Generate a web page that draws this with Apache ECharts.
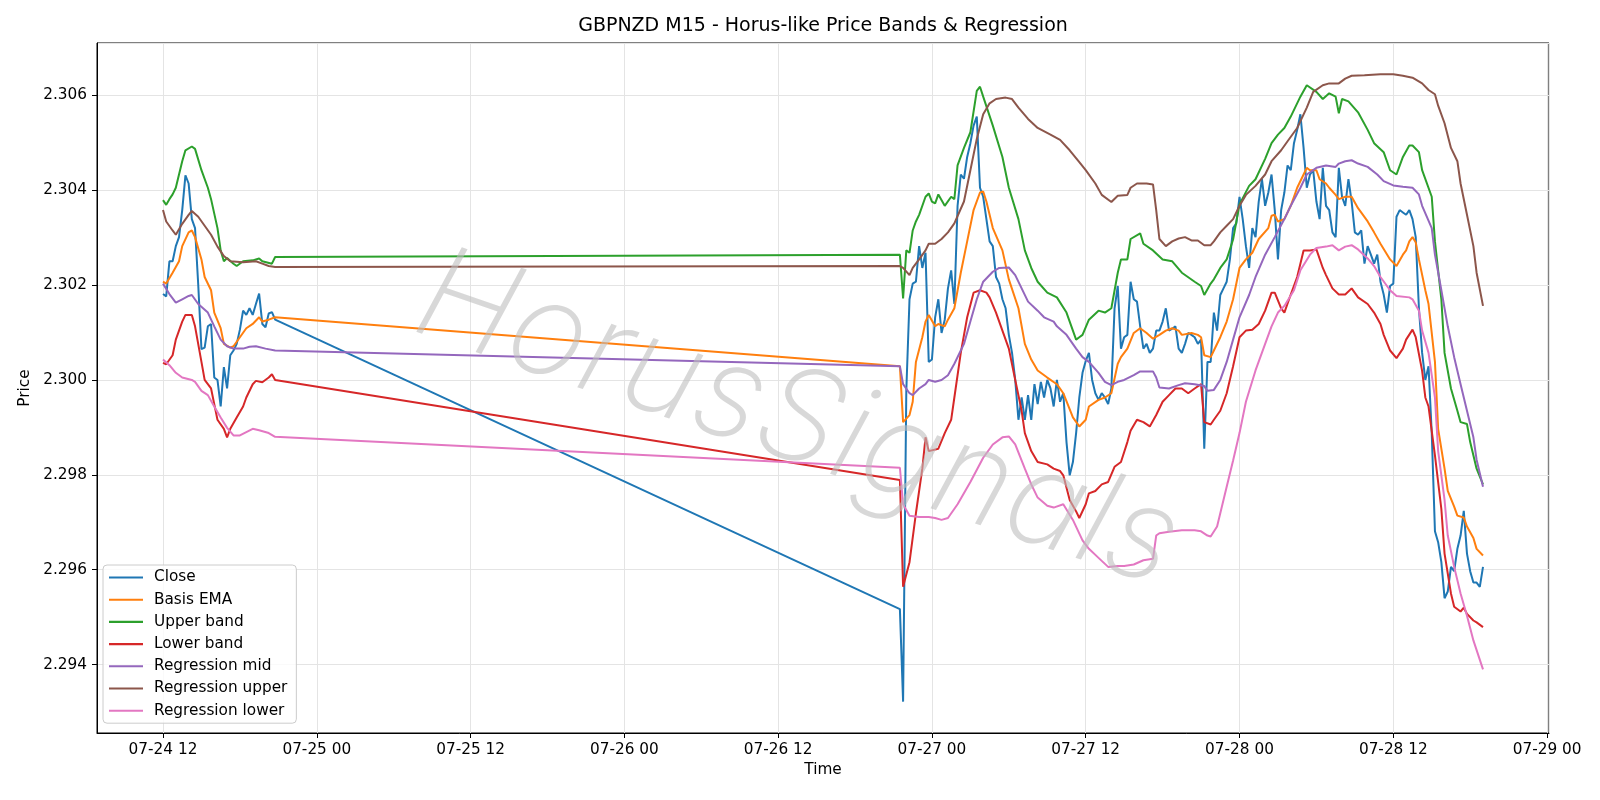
<!DOCTYPE html>
<html>
<head>
<meta charset="utf-8">
<title>GBPNZD M15 - Horus-like Price Bands &amp; Regression</title>
<script src="https://cdn.jsdelivr.net/npm/echarts@6/dist/echarts.min.js"></script>
<style>
  html, body { margin: 0; padding: 0; background: #fff; }
  #chart { width: 1600px; height: 800px; }
</style>
</head>
<body>
<div id="chart"></div>
<script>
// GBPNZD M15 closes, one row per hour: [start, close@:00, :15, :30, :45]
const closeRows = [
  ['07-24 12:00', 2.30181, 2.30176, 2.30250, 2.30250],
  ['07-24 13:00', 2.30282, 2.30301, 2.30358, 2.30431],
  ['07-24 14:00', 2.30414, 2.30339, 2.30320, 2.30200],
  ['07-24 15:00', 2.30065, 2.30068, 2.30113, 2.30118],
  ['07-24 16:00', 2.30005, 2.30000, 2.29944, 2.30027],
  ['07-24 17:00', 2.29982, 2.30052, 2.30062, 2.30076],
  ['07-24 18:00', 2.30106, 2.30146, 2.30137, 2.30151],
  ['07-24 19:00', 2.30137, 2.30160, 2.30182, 2.30118],
  ['07-24 20:00', 2.30111, 2.30140, 2.30143, 2.30127],
  ['07-26 21:30', 2.29517, 2.29322],
  ['07-26 22:00', 2.29977, 2.30170, 2.30203, 2.30207],
  ['07-26 23:00', 2.30282, 2.30236, 2.30268, 2.30038],
  ['07-27 00:00', 2.30043, 2.30132, 2.30170, 2.30099],
  ['07-27 01:00', 2.30127, 2.30193, 2.30231, 2.30160],
  ['07-27 02:00', 2.30367, 2.30433, 2.30424, 2.30470],
  ['07-27 03:00', 2.30499, 2.30536, 2.30555, 2.30405],
  ['07-27 04:00', 2.30386, 2.30339, 2.30292, 2.30282],
  ['07-27 05:00', 2.30217, 2.30203, 2.30170, 2.30151],
  ['07-27 06:00', 2.30095, 2.30057, 2.30000, 2.29916],
  ['07-27 07:00', 2.29963, 2.29916, 2.29968, 2.29916],
  ['07-27 08:00', 2.29991, 2.29949, 2.29996, 2.29963],
  ['07-27 09:00', 2.30000, 2.29982, 2.29944, 2.30000],
  ['07-27 10:00', 2.29954, 2.29972, 2.29869, 2.29799],
  ['07-27 11:00', 2.29827, 2.29888, 2.29963, 2.30015],
  ['07-27 12:00', 2.30040, 2.30057, 2.30000, 2.29972],
  ['07-27 13:00', 2.29958, 2.29972, 2.29963, 2.29949],
  ['07-27 14:00', 2.29982, 2.30151, 2.30198, 2.30066],
  ['07-27 15:00', 2.30090, 2.30095, 2.30207, 2.30170],
  ['07-27 16:00', 2.30165, 2.30113, 2.30066, 2.30076],
  ['07-27 17:00', 2.30057, 2.30066, 2.30104, 2.30104],
  ['07-27 18:00', 2.30123, 2.30151, 2.30104, 2.30108],
  ['07-27 19:00', 2.30113, 2.30066, 2.30057, 2.30076],
  ['07-27 20:00', 2.30099, 2.30095, 2.30090, 2.30076],
  ['07-27 21:00', 2.30085, 2.29855, 2.30038, 2.30038],
  ['07-27 22:00', 2.30142, 2.30104, 2.30179, 2.30193],
  ['07-27 23:00', 2.30207, 2.30254, 2.30320, 2.30330],
  ['07-28 00:00', 2.30386, 2.30339, 2.30282, 2.30236],
  ['07-28 01:00', 2.30320, 2.30301, 2.30376, 2.30423],
  ['07-28 02:00', 2.30367, 2.30395, 2.30433, 2.30358],
  ['07-28 03:00', 2.30254, 2.30358, 2.30395, 2.30452],
  ['07-28 04:00', 2.30442, 2.30499, 2.30527, 2.30560],
  ['07-28 05:00', 2.30489, 2.30405, 2.30433, 2.30442],
  ['07-28 06:00', 2.30376, 2.30339, 2.30447, 2.30367],
  ['07-28 07:00', 2.30358, 2.30311, 2.30301, 2.30447],
  ['07-28 08:00', 2.30386, 2.30367, 2.30423, 2.30376],
  ['07-28 09:00', 2.30311, 2.30306, 2.30315, 2.30245],
  ['07-28 10:00', 2.30282, 2.30264, 2.30245, 2.30264],
  ['07-28 11:00', 2.30207, 2.30180, 2.30142, 2.30198],
  ['07-28 12:00', 2.30203, 2.30344, 2.30358, 2.30353],
  ['07-28 13:00', 2.30348, 2.30358, 2.30339, 2.30301],
  ['07-28 14:00', 2.30151, 2.30057, 2.30000, 2.30029],
  ['07-28 15:00', 2.29888, 2.29681, 2.29658, 2.29616],
  ['07-28 16:00', 2.29540, 2.29554, 2.29606, 2.29597],
  ['07-28 17:00', 2.29644, 2.29672, 2.29724, 2.29634],
  ['07-28 18:00', 2.29597, 2.29573, 2.29573, 2.29564],
  ['07-28 19:00', 2.29606]
];

// smooth lines, read at their turning points
const basisEma = [
  ['07-24 12:00', 2.30207], ['07-24 12:15', 2.30203], ['07-24 12:45', 2.30226], ['07-24 13:15', 2.30250],
  ['07-24 13:30', 2.30282], ['07-24 14:00', 2.30311], ['07-24 14:15', 2.30315], ['07-24 14:30', 2.30301],
  ['07-24 15:00', 2.30254], ['07-24 15:15', 2.30217], ['07-24 15:45', 2.30189], ['07-24 16:00', 2.30142],
  ['07-24 16:30', 2.30109], ['07-24 16:45', 2.30076], ['07-24 17:15', 2.30068], ['07-24 17:30', 2.30071],
  ['07-24 18:00', 2.30090], ['07-24 18:30', 2.30109], ['07-24 19:00', 2.30118], ['07-24 19:30', 2.30132],
  ['07-24 19:45', 2.30123], ['07-24 20:15', 2.30127], ['07-24 20:45', 2.30132],
  ['07-26 21:30', 2.30029], ['07-26 21:45', 2.29911], ['07-26 22:15', 2.29926], ['07-26 22:30', 2.29954],
  ['07-26 22:45', 2.30038], ['07-26 23:15', 2.30090], ['07-26 23:30', 2.30123], ['07-26 23:45', 2.30137],
  ['07-27 00:15', 2.30113], ['07-27 00:30', 2.30118], ['07-27 01:00', 2.30113], ['07-27 01:15', 2.30127],
  ['07-27 01:45', 2.30151], ['07-27 02:15', 2.30226], ['07-27 02:45', 2.30292], ['07-27 03:15', 2.30358],
  ['07-27 03:45', 2.30395], ['07-27 04:00', 2.30397], ['07-27 04:15', 2.30376], ['07-27 04:45', 2.30320],
  ['07-27 05:30', 2.30273], ['07-27 06:00', 2.30212], ['07-27 06:45', 2.30151], ['07-27 07:15', 2.30076],
  ['07-27 07:45', 2.30043], ['07-27 08:15', 2.30020], ['07-27 09:00', 2.30005], ['07-27 09:45', 2.29991],
  ['07-27 10:15', 2.29972], ['07-27 11:00', 2.29921], ['07-27 11:30', 2.29902], ['07-27 12:00', 2.29916],
  ['07-27 12:15', 2.29944], ['07-27 13:00', 2.29958], ['07-27 13:30', 2.29963], ['07-27 14:00', 2.29972],
  ['07-27 14:30', 2.30034], ['07-27 14:45', 2.30048], ['07-27 15:15', 2.30066], ['07-27 15:45', 2.30099],
  ['07-27 16:15', 2.30109], ['07-27 16:45', 2.30099], ['07-27 17:15', 2.30087], ['07-27 17:45', 2.30095],
  ['07-27 18:15', 2.30104], ['07-27 18:45', 2.30109], ['07-27 19:15', 2.30104], ['07-27 19:30', 2.30095],
  ['07-27 20:15', 2.30099], ['07-27 20:45', 2.30095], ['07-27 21:00', 2.30090], ['07-27 21:15', 2.30052],
  ['07-27 21:45', 2.30048], ['07-27 22:00', 2.30062], ['07-27 22:30', 2.30090], ['07-27 23:00', 2.30123],
  ['07-27 23:30', 2.30170], ['07-28 00:00', 2.30236], ['07-28 00:30', 2.30254], ['07-28 01:00', 2.30268],
  ['07-28 01:30', 2.30297], ['07-28 02:15', 2.30320], ['07-28 02:30', 2.30346], ['07-28 02:45', 2.30348],
  ['07-28 03:00', 2.30334], ['07-28 03:30', 2.30339], ['07-28 04:00', 2.30367], ['07-28 04:30', 2.30405],
  ['07-28 05:00', 2.30433], ['07-28 05:15', 2.30447], ['07-28 05:30', 2.30442], ['07-28 06:00', 2.30442],
  ['07-28 06:15', 2.30423], ['07-28 06:45', 2.30414], ['07-28 07:00', 2.30405], ['07-28 07:30', 2.30390],
  ['07-28 07:45', 2.30381], ['07-28 08:15', 2.30386], ['07-28 08:45', 2.30386], ['07-28 09:15', 2.30362],
  ['07-28 10:00', 2.30334], ['07-28 10:30', 2.30311], ['07-28 11:00', 2.30287], ['07-28 11:45', 2.30254],
  ['07-28 12:15', 2.30240], ['07-28 12:45', 2.30264], ['07-28 13:00', 2.30273], ['07-28 13:15', 2.30292],
  ['07-28 13:30', 2.30301], ['07-28 13:45', 2.30290], ['07-28 14:00', 2.30254], ['07-28 14:30', 2.30189],
  ['07-28 14:45', 2.30160], ['07-28 15:15', 2.30038], ['07-28 15:30', 2.29897], ['07-28 16:00', 2.29813],
  ['07-28 16:15', 2.29766], ['07-28 16:45', 2.29733], ['07-28 17:00', 2.29714], ['07-28 17:30', 2.29710],
  ['07-28 17:45', 2.29691], ['07-28 18:15', 2.29667], ['07-28 18:30', 2.29644], ['07-28 19:00', 2.29630]
];

const upperBand = [
  ['07-24 12:00', 2.30379], ['07-24 12:15', 2.30369], ['07-24 12:30', 2.30381], ['07-24 12:45', 2.30391],
  ['07-24 13:00', 2.30405], ['07-24 13:30', 2.30461], ['07-24 13:45', 2.30484], ['07-24 14:15', 2.30492],
  ['07-24 14:30', 2.30487], ['07-24 15:00', 2.30442], ['07-24 15:30', 2.30405], ['07-24 15:45', 2.30381],
  ['07-24 16:15', 2.30320], ['07-24 16:30', 2.30273], ['07-24 16:45', 2.30250], ['07-24 17:00', 2.30257],
  ['07-24 17:30', 2.30245], ['07-24 17:45', 2.30240], ['07-24 18:15', 2.30250], ['07-24 19:00', 2.30252],
  ['07-24 19:30', 2.30256], ['07-24 19:45', 2.30250], ['07-24 20:30', 2.30245], ['07-24 20:45', 2.30259],
  ['07-26 21:30', 2.30264], ['07-26 21:45', 2.30172], ['07-26 22:00', 2.30273], ['07-26 22:15', 2.30268],
  ['07-26 22:30', 2.30315], ['07-26 22:45', 2.30334], ['07-26 23:00', 2.30348], ['07-26 23:30', 2.30386],
  ['07-26 23:45', 2.30393], ['07-27 00:00', 2.30376], ['07-27 00:15', 2.30372], ['07-27 00:30', 2.30391],
  ['07-27 01:00', 2.30367], ['07-27 01:30', 2.30386], ['07-27 01:45', 2.30381], ['07-27 02:00', 2.30452],
  ['07-27 02:30', 2.30489], ['07-27 03:00', 2.30522], ['07-27 03:30', 2.30609], ['07-27 03:45', 2.30618],
  ['07-27 04:00', 2.30597], ['07-27 04:45', 2.30536], ['07-27 05:30', 2.30470], ['07-27 06:00', 2.30405],
  ['07-27 06:45', 2.30339], ['07-27 07:15', 2.30273], ['07-27 07:45', 2.30236], ['07-27 08:15', 2.30207],
  ['07-27 09:00', 2.30184], ['07-27 09:45', 2.30174], ['07-27 10:30', 2.30142], ['07-27 11:15', 2.30085],
  ['07-27 11:30', 2.30090], ['07-27 11:45', 2.30095], ['07-27 12:15', 2.30127], ['07-27 13:00', 2.30146],
  ['07-27 13:30', 2.30142], ['07-27 14:00', 2.30151], ['07-27 14:30', 2.30226], ['07-27 14:45', 2.30254],
  ['07-27 15:15', 2.30254], ['07-27 15:30', 2.30297], ['07-27 16:15', 2.30309], ['07-27 16:30', 2.30287],
  ['07-27 17:15', 2.30273], ['07-27 18:00', 2.30254], ['07-27 18:45', 2.30250], ['07-27 19:30', 2.30226],
  ['07-27 20:30', 2.30207], ['07-27 21:00', 2.30198], ['07-27 21:15', 2.30179], ['07-27 21:45', 2.30203],
  ['07-27 22:00', 2.30212], ['07-27 22:30', 2.30236], ['07-27 23:00', 2.30254], ['07-27 23:30', 2.30296],
  ['07-28 00:00', 2.30370], ['07-28 00:45', 2.30409], ['07-28 01:15', 2.30423], ['07-28 02:00', 2.30466],
  ['07-28 02:30', 2.30499], ['07-28 03:00', 2.30517], ['07-28 03:30', 2.30531], ['07-28 04:00', 2.30555],
  ['07-28 04:45', 2.30597], ['07-28 05:15', 2.30621], ['07-28 06:00', 2.30607], ['07-28 06:30', 2.30592],
  ['07-28 07:00', 2.30604], ['07-28 07:30', 2.30597], ['07-28 07:45', 2.30562], ['07-28 08:00', 2.30592],
  ['07-28 08:30', 2.30587], ['07-28 09:15', 2.30564], ['07-28 10:00', 2.30527], ['07-28 10:30', 2.30499],
  ['07-28 11:15', 2.30480], ['07-28 11:45', 2.30442], ['07-28 12:15', 2.30433], ['07-28 12:45', 2.30470],
  ['07-28 13:15', 2.30494], ['07-28 13:30', 2.30494], ['07-28 14:00', 2.30480], ['07-28 14:15', 2.30442],
  ['07-28 15:00', 2.30386], ['07-28 15:15', 2.30292], ['07-28 15:45', 2.30170], ['07-28 16:00', 2.30057],
  ['07-28 16:30', 2.29982], ['07-28 17:00', 2.29935], ['07-28 17:15', 2.29911], ['07-28 17:45', 2.29907],
  ['07-28 18:00', 2.29869], ['07-28 18:30', 2.29813], ['07-28 19:00', 2.29780]
];

const lowerBand = [
  ['07-24 12:00', 2.30036], ['07-24 12:15', 2.30033], ['07-24 12:45', 2.30052], ['07-24 13:00', 2.30085],
  ['07-24 13:30', 2.30123], ['07-24 13:45', 2.30137], ['07-24 14:15', 2.30137], ['07-24 14:30', 2.30113],
  ['07-24 15:00', 2.30038], ['07-24 15:15', 2.30000], ['07-24 15:45', 2.29982], ['07-24 16:00', 2.29949],
  ['07-24 16:15', 2.29916], ['07-24 16:45', 2.29897], ['07-24 17:00', 2.29879], ['07-24 17:15', 2.29897],
  ['07-24 17:45', 2.29921], ['07-24 18:15', 2.29944], ['07-24 18:30', 2.29963], ['07-24 19:00', 2.29991],
  ['07-24 19:15', 2.29998], ['07-24 19:45', 2.29995], ['07-24 20:15', 2.30005], ['07-24 20:30', 2.30012],
  ['07-24 20:45', 2.30000],
  ['07-26 21:30', 2.29789], ['07-26 21:45', 2.29564], ['07-26 22:15', 2.29616], ['07-26 22:45', 2.29719],
  ['07-26 23:15', 2.29813], ['07-26 23:30', 2.29879], ['07-26 23:45', 2.29850], ['07-27 00:30', 2.29855],
  ['07-27 01:00', 2.29888], ['07-27 01:30', 2.29916], ['07-27 01:45', 2.29963], ['07-27 02:15', 2.30057],
  ['07-27 02:45', 2.30132], ['07-27 03:15', 2.30184], ['07-27 03:45', 2.30189], ['07-27 04:15', 2.30184],
  ['07-27 04:30', 2.30174], ['07-27 05:00', 2.30142], ['07-27 05:30', 2.30104], ['07-27 06:00', 2.30066],
  ['07-27 06:30', 2.30000], ['07-27 07:00', 2.29935], ['07-27 07:15', 2.29888], ['07-27 07:45', 2.29850],
  ['07-27 08:15', 2.29827], ['07-27 09:00', 2.29822], ['07-27 09:30', 2.29813], ['07-27 10:00', 2.29808],
  ['07-27 10:15', 2.29799], ['07-27 10:45', 2.29747], ['07-27 11:15', 2.29723], ['07-27 11:30', 2.29709],
  ['07-27 12:00', 2.29738], ['07-27 12:15', 2.29761], ['07-27 12:45', 2.29766], ['07-27 13:15', 2.29780],
  ['07-27 13:45', 2.29785], ['07-27 14:15', 2.29817], ['07-27 14:45', 2.29827], ['07-27 15:15', 2.29869],
  ['07-27 15:30', 2.29893], ['07-27 16:00', 2.29916], ['07-27 16:30', 2.29911], ['07-27 17:00', 2.29902],
  ['07-27 17:30', 2.29926], ['07-27 18:00', 2.29954], ['07-27 18:30', 2.29968], ['07-27 19:00', 2.29982],
  ['07-27 19:30', 2.29982], ['07-27 20:00', 2.29972], ['07-27 20:30', 2.29982], ['07-27 21:00', 2.29991],
  ['07-27 21:15', 2.29911], ['07-27 21:45', 2.29906], ['07-27 22:00', 2.29916], ['07-27 22:30', 2.29935],
  ['07-27 23:00', 2.29972], ['07-27 23:30', 2.30029], ['07-28 00:00', 2.30090], ['07-28 00:30', 2.30104],
  ['07-28 01:00', 2.30106], ['07-28 01:30', 2.30118], ['07-28 02:00', 2.30146], ['07-28 02:30', 2.30184],
  ['07-28 02:45', 2.30184], ['07-28 03:15', 2.30151], ['07-28 03:30', 2.30142], ['07-28 04:00', 2.30180],
  ['07-28 04:30', 2.30217], ['07-28 05:00', 2.30273], ['07-28 05:30', 2.30273], ['07-28 06:00', 2.30275],
  ['07-28 06:30', 2.30236], ['07-28 06:45', 2.30221], ['07-28 07:15', 2.30193], ['07-28 07:45', 2.30180],
  ['07-28 08:15', 2.30180], ['07-28 08:45', 2.30193], ['07-28 09:15', 2.30174], ['07-28 10:00', 2.30160],
  ['07-28 10:30', 2.30142], ['07-28 11:00', 2.30118], ['07-28 11:15', 2.30095], ['07-28 11:45', 2.30062],
  ['07-28 12:15', 2.30046], ['07-28 12:45', 2.30066], ['07-28 13:00', 2.30085], ['07-28 13:30', 2.30106],
  ['07-28 13:45', 2.30090], ['07-28 14:15', 2.30019], ['07-28 14:30', 2.29963], ['07-28 14:45', 2.29944],
  ['07-28 15:15', 2.29841], ['07-28 15:45', 2.29728], ['07-28 16:00', 2.29634], ['07-28 16:30', 2.29550],
  ['07-28 16:45', 2.29522], ['07-28 17:15', 2.29512], ['07-28 17:30', 2.29520], ['07-28 17:45', 2.29507],
  ['07-28 18:15', 2.29493], ['07-28 18:30', 2.29489], ['07-28 19:00', 2.29479]
];

const regMid = [
  ['07-24 12:00', 2.30203], ['07-24 12:30', 2.30181], ['07-24 13:00', 2.30163], ['07-24 13:30', 2.30170],
  ['07-24 14:00', 2.30177], ['07-24 14:15', 2.30179], ['07-24 14:45', 2.30160], ['07-24 15:30', 2.30142],
  ['07-24 16:00', 2.30113], ['07-24 16:30', 2.30085], ['07-24 17:00', 2.30071], ['07-24 17:30', 2.30066],
  ['07-24 18:15', 2.30066], ['07-24 18:45', 2.30070], ['07-24 19:15', 2.30071], ['07-24 20:00', 2.30066],
  ['07-24 20:45', 2.30062],
  ['07-26 21:30', 2.30029], ['07-26 21:45', 2.29991], ['07-26 22:15', 2.29972], ['07-26 22:30', 2.29968],
  ['07-26 23:00', 2.29982], ['07-26 23:30', 2.29991], ['07-26 23:45', 2.30000], ['07-27 00:15', 2.29996],
  ['07-27 00:45', 2.30000], ['07-27 01:15', 2.30010], ['07-27 01:45', 2.30034], ['07-27 02:30', 2.30076],
  ['07-27 03:00', 2.30123], ['07-27 03:30', 2.30170], ['07-27 04:00', 2.30207], ['07-27 04:45', 2.30228],
  ['07-27 05:15', 2.30236], ['07-27 06:00', 2.30237], ['07-27 06:30', 2.30221], ['07-27 07:00', 2.30193],
  ['07-27 07:30', 2.30165], ['07-27 08:15', 2.30146], ['07-27 08:45', 2.30132], ['07-27 09:30', 2.30123],
  ['07-27 09:45', 2.30113], ['07-27 10:30', 2.30095], ['07-27 11:15', 2.30066], ['07-27 11:45', 2.30048],
  ['07-27 12:15', 2.30038], ['07-27 13:00', 2.30015], ['07-27 13:30', 2.29996], ['07-27 14:00', 2.29989],
  ['07-27 14:30', 2.29996], ['07-27 15:00', 2.30000], ['07-27 15:45', 2.30010], ['07-27 16:15', 2.30018],
  ['07-27 17:15', 2.30018], ['07-27 17:30', 2.30005], ['07-27 17:45', 2.29984], ['07-27 18:30', 2.29982],
  ['07-27 19:15', 2.29989], ['07-27 19:45', 2.29993], ['07-27 20:30', 2.29991], ['07-27 21:15', 2.29987],
  ['07-27 21:30', 2.29977], ['07-27 22:00', 2.29979], ['07-27 22:30', 2.30000], ['07-27 23:00', 2.30038],
  ['07-27 23:30', 2.30085], ['07-28 00:00', 2.30132], ['07-28 00:45', 2.30179], ['07-28 01:15', 2.30217],
  ['07-28 02:00', 2.30264], ['07-28 02:45', 2.30301], ['07-28 03:30', 2.30339], ['07-28 04:00', 2.30367],
  ['07-28 04:45', 2.30405], ['07-28 05:15', 2.30433], ['07-28 06:00', 2.30447], ['07-28 06:45', 2.30452],
  ['07-28 07:30', 2.30449], ['07-28 07:45', 2.30456], ['07-28 08:15', 2.30461], ['07-28 08:45', 2.30463],
  ['07-28 09:15', 2.30456], ['07-28 10:00', 2.30449], ['07-28 10:45', 2.30433], ['07-28 11:15', 2.30419],
  ['07-28 12:00', 2.30410], ['07-28 12:45', 2.30407], ['07-28 13:30', 2.30405], ['07-28 14:00', 2.30391],
  ['07-28 14:15', 2.30367], ['07-28 15:00', 2.30320], ['07-28 15:15', 2.30264], ['07-28 15:45', 2.30189],
  ['07-28 16:15', 2.30113], ['07-28 16:45', 2.30048], ['07-28 17:15', 2.29991], ['07-28 17:45', 2.29935],
  ['07-28 18:15', 2.29879], ['07-28 18:30', 2.29832], ['07-28 19:00', 2.29775]
];

const regUpper = [
  ['07-24 12:00', 2.30358], ['07-24 12:15', 2.30334], ['07-24 12:45', 2.30315], ['07-24 13:00', 2.30306],
  ['07-24 13:30', 2.30329], ['07-24 14:00', 2.30348], ['07-24 14:15', 2.30356], ['07-24 14:45', 2.30344],
  ['07-24 15:15', 2.30325], ['07-24 15:45', 2.30306], ['07-24 16:15', 2.30281], ['07-24 16:45', 2.30261],
  ['07-24 17:15', 2.30250], ['07-24 18:15', 2.30248], ['07-24 19:15', 2.30250], ['07-24 19:45', 2.30245],
  ['07-24 20:15', 2.30240], ['07-24 20:45', 2.30238],
  ['07-26 21:30', 2.30240], ['07-26 21:45', 2.30236], ['07-26 22:15', 2.30221], ['07-26 22:30', 2.30236],
  ['07-26 23:00', 2.30254], ['07-26 23:30', 2.30273], ['07-26 23:45', 2.30287], ['07-27 00:15', 2.30287],
  ['07-27 00:45', 2.30297], ['07-27 01:15', 2.30311], ['07-27 01:45', 2.30330], ['07-27 02:30', 2.30376],
  ['07-27 03:00', 2.30442], ['07-27 03:30', 2.30508], ['07-27 04:00', 2.30560], ['07-27 04:30', 2.30583],
  ['07-27 05:00', 2.30592], ['07-27 05:45', 2.30595], ['07-27 06:15', 2.30592], ['07-27 06:45', 2.30574],
  ['07-27 07:30', 2.30550], ['07-27 08:15', 2.30531], ['07-27 09:15', 2.30517], ['07-27 10:00', 2.30506],
  ['07-27 10:45', 2.30484], ['07-27 11:30', 2.30459], ['07-27 12:00', 2.30442], ['07-27 12:45', 2.30414],
  ['07-27 13:15', 2.30390], ['07-27 14:00', 2.30375], ['07-27 14:30', 2.30388], ['07-27 15:15', 2.30390],
  ['07-27 15:30', 2.30405], ['07-27 16:00', 2.30414], ['07-27 16:45', 2.30414], ['07-27 17:15', 2.30412],
  ['07-27 17:30', 2.30358], ['07-27 17:45', 2.30297], ['07-27 18:15', 2.30282], ['07-27 18:45', 2.30292],
  ['07-27 19:15', 2.30298], ['07-27 19:45', 2.30301], ['07-27 20:15', 2.30294], ['07-27 20:45', 2.30294],
  ['07-27 21:15', 2.30284], ['07-27 21:45', 2.30284], ['07-27 22:00', 2.30292], ['07-27 22:30', 2.30311],
  ['07-27 23:00', 2.30325], ['07-27 23:30', 2.30339], ['07-28 00:00', 2.30367], ['07-28 00:30', 2.30390],
  ['07-28 01:15', 2.30409], ['07-28 02:00', 2.30433], ['07-28 02:30', 2.30461], ['07-28 03:15', 2.30484],
  ['07-28 03:45', 2.30503], ['07-28 04:30', 2.30531], ['07-28 05:15', 2.30574], ['07-28 05:45', 2.30607],
  ['07-28 06:30', 2.30621], ['07-28 07:00', 2.30625], ['07-28 07:45', 2.30625], ['07-28 08:15', 2.30635],
  ['07-28 08:45', 2.30641], ['07-28 09:45', 2.30642], ['07-28 11:00', 2.30644], ['07-28 12:00', 2.30644],
  ['07-28 12:45', 2.30641], ['07-28 13:30', 2.30637], ['07-28 14:15', 2.30625], ['07-28 14:45', 2.30611],
  ['07-28 15:15', 2.30602], ['07-28 15:30', 2.30578], ['07-28 16:00', 2.30541], ['07-28 16:30', 2.30489],
  ['07-28 17:00', 2.30461], ['07-28 17:15', 2.30414], ['07-28 17:45', 2.30348], ['07-28 18:15', 2.30282],
  ['07-28 18:30', 2.30226], ['07-28 19:00', 2.30156]
];

const regLower = [
  ['07-24 12:00', 2.30043], ['07-24 12:30', 2.30031], ['07-24 13:00', 2.30015], ['07-24 13:30', 2.30005],
  ['07-24 14:15', 2.30000], ['07-24 14:30', 2.29996], ['07-24 15:00', 2.29977], ['07-24 15:30', 2.29968],
  ['07-24 16:00', 2.29944], ['07-24 16:30', 2.29921], ['07-24 17:00', 2.29899], ['07-24 17:30', 2.29883],
  ['07-24 18:00', 2.29883], ['07-24 18:30', 2.29890], ['07-24 19:00', 2.29897], ['07-24 19:30', 2.29894],
  ['07-24 20:15', 2.29888], ['07-24 20:45', 2.29880],
  ['07-26 21:30', 2.29815], ['07-26 21:45', 2.29738], ['07-26 22:15', 2.29714], ['07-26 23:00', 2.29711],
  ['07-26 23:45', 2.29711], ['07-27 00:15', 2.29709], ['07-27 00:45', 2.29705], ['07-27 01:15', 2.29709],
  ['07-27 02:00', 2.29738], ['07-27 03:00', 2.29785], ['07-27 04:00', 2.29836], ['07-27 04:45', 2.29864],
  ['07-27 05:30', 2.29879], ['07-27 06:00', 2.29881], ['07-27 06:30', 2.29864], ['07-27 07:15', 2.29813],
  ['07-27 07:45', 2.29780], ['07-27 08:15', 2.29752], ['07-27 09:00', 2.29735], ['07-27 09:30', 2.29731],
  ['07-27 10:15', 2.29738], ['07-27 11:00', 2.29705], ['07-27 11:45', 2.29662], ['07-27 12:15', 2.29644],
  ['07-27 13:00', 2.29625], ['07-27 13:45', 2.29606], ['07-27 14:30', 2.29608], ['07-27 15:00', 2.29608],
  ['07-27 15:45', 2.29611], ['07-27 16:30', 2.29620], ['07-27 17:15', 2.29623], ['07-27 17:30', 2.29672],
  ['07-27 17:45', 2.29677], ['07-27 18:30', 2.29680], ['07-27 19:30', 2.29683], ['07-27 20:30', 2.29683],
  ['07-27 21:00', 2.29681], ['07-27 21:30', 2.29672], ['07-27 21:45', 2.29670], ['07-27 22:15', 2.29691],
  ['07-27 22:30', 2.29719], ['07-27 23:00', 2.29775], ['07-27 23:30', 2.29830], ['07-28 00:00', 2.29888],
  ['07-28 00:30', 2.29954], ['07-28 01:15', 2.30020], ['07-28 02:00', 2.30076], ['07-28 02:30', 2.30113],
  ['07-28 03:00', 2.30142], ['07-28 03:30', 2.30156], ['07-28 04:15', 2.30189], ['07-28 04:45', 2.30231],
  ['07-28 05:30', 2.30264], ['07-28 06:00', 2.30278], ['07-28 06:45', 2.30281], ['07-28 07:15', 2.30284],
  ['07-28 07:45', 2.30273], ['07-28 08:15', 2.30281], ['07-28 08:45', 2.30284], ['07-28 09:15', 2.30275],
  ['07-28 10:00', 2.30256], ['07-28 10:30', 2.30240], ['07-28 11:00', 2.30217], ['07-28 11:45', 2.30189],
  ['07-28 12:15', 2.30177], ['07-28 13:15', 2.30174], ['07-28 13:30', 2.30170], ['07-28 14:00', 2.30146],
  ['07-28 14:15', 2.30104], ['07-28 14:45', 2.30057], ['07-28 15:15', 2.29963], ['07-28 15:30', 2.29850],
  ['07-28 16:00', 2.29747], ['07-28 16:15', 2.29672], ['07-28 16:45', 2.29606], ['07-28 17:15', 2.29550],
  ['07-28 17:45', 2.29503], ['07-28 18:15', 2.29451], ['07-28 19:00', 2.29390]
];

const seriesNames = ['Close', 'Basis EMA', 'Upper band', 'Lower band', 'Regression mid', 'Regression upper', 'Regression lower'];
const seriesColors = ['#1f77b4', '#ff7f0e', '#2ca02c', '#d62728', '#9467bd', '#8c564b', '#e377c2'];

const YEAR = 2025;
const QUARTER = 15 * 60 * 1000;
const HALF_DAY = 12 * 3600 * 1000;

function toMs(s) {
  const [md, hm] = s.split(' ');
  const [mo, d] = md.split('-').map(Number);
  const [h, m] = hm.split(':').map(Number);
  return Date.UTC(YEAR, mo - 1, d, h, m);
}
function fromRows(rows) {
  const out = [];
  rows.forEach(r => {
    const t0 = toMs(r[0]);
    for (let k = 1; k < r.length; k++) out.push([t0 + (k - 1) * QUARTER, r[k]]);
  });
  return out;
}
const fromPairs = p => p.map(([t, v]) => [toMs(t), v]);

const seriesData = [
  fromRows(closeRows), fromPairs(basisEma), fromPairs(upperBand), fromPairs(lowerBand),
  fromPairs(regMid), fromPairs(regUpper), fromPairs(regLower)
];

// matplotlib-like 5% margins around the data
const allX = seriesData.flat().map(d => d[0]);
const allY = seriesData.flat().map(d => d[1]);
const xMin = Math.min(...allX), xMax = Math.max(...allX);
const yMin = Math.min(...allY), yMax = Math.max(...allY);
const xPad = (xMax - xMin) * 0.05, yPad = (yMax - yMin) * 0.05;

const pad2 = n => String(n).padStart(2, '0');
const fmtTime = v => {
  const d = new Date(v);
  return pad2(d.getUTCMonth() + 1) + '-' + pad2(d.getUTCDate()) + ' ' + pad2(d.getUTCHours());
};

const FONT = 'DejaVu Sans';
const FS = 15.3;
const chart = echarts.init(document.getElementById('chart'), null, { renderer: 'canvas' });

const option = {
  animation: false,
  backgroundColor: '#ffffff',
  textStyle: { fontFamily: FONT },
  title: {
    text: 'GBPNZD M15 - Horus-like Price Bands & Regression',
    left: 823, top: 17, textAlign: 'center', padding: 0,
    textStyle: { fontFamily: FONT, fontSize: 19, fontWeight: 'normal', color: '#000' }
  },
  grid: {
    left: 97, right: 51, top: 43, bottom: 67,
    show: true, borderColor: '#000', borderWidth: 1, backgroundColor: 'transparent'
  },
  legend: {
    orient: 'vertical', left: 103, top: 565,
    padding: [5, 9, 5, 6],
    itemWidth: 34, itemHeight: 15, itemGap: 7.2,
    icon: 'path://M0,0H34V2.1H0Z',
    backgroundColor: 'rgba(255,255,255,0.8)',
    borderColor: '#cccccc', borderWidth: 1, borderRadius: 4,
    data: seriesNames,
    textStyle: { fontFamily: FONT, fontSize: FS, color: '#000', padding: [0, 0, 0, 6] }
  },
  xAxis: {
    type: 'value', min: xMin - xPad, max: xMax + xPad,
    minInterval: HALF_DAY, maxInterval: HALF_DAY,
    name: 'Time', nameLocation: 'middle', nameGap: 30,
    nameTextStyle: { fontFamily: FONT, fontSize: FS, color: '#000' },
    axisLine: { show: true, onZero: false, lineStyle: { color: '#000', width: 1 } },
    axisTick: { show: true, length: 5, lineStyle: { color: '#000', width: 1 } },
    axisLabel: { color: '#000', fontSize: FS, fontFamily: FONT, margin: 10,
      showMinLabel: false, showMaxLabel: false, formatter: fmtTime },
    splitLine: { show: true, lineStyle: { color: '#e4e4e4', width: 1 } }
  },
  yAxis: {
    type: 'value', min: yMin - yPad, max: yMax + yPad,
    minInterval: 0.002, maxInterval: 0.002, splitNumber: 7,
    name: 'Price', nameLocation: 'middle', nameGap: 60, nameRotate: 90,
    nameTextStyle: { fontFamily: FONT, fontSize: FS, color: '#000' },
    axisLine: { show: true, onZero: false, lineStyle: { color: '#000', width: 1 } },
    axisTick: { show: true, length: 5, lineStyle: { color: '#000', width: 1 } },
    axisLabel: { color: '#000', fontSize: FS, fontFamily: FONT, margin: 10,
      showMinLabel: false, showMaxLabel: false, formatter: v => v.toFixed(3) },
    splitLine: { show: true, lineStyle: { color: '#e4e4e4', width: 1 } }
  },
  series: seriesNames.map((name, i) => ({
    name,
    type: 'line',
    data: seriesData[i],
    symbol: 'none',
    showSymbol: false,
    clip: true,
    lineStyle: { color: seriesColors[i], width: 2 },
    itemStyle: { color: seriesColors[i] },
    emphasis: { disabled: true }
  })),
  // faint rotated watermark over the plot
  graphic: [{
    type: 'text',
    x: 797, y: 421,
    rotation: -0.33,
    z: 100,
    silent: true,
    style: {
      text: 'HorusSignals',
      font: 'italic 200 130px Inter, Lato, "DejaVu Sans"',
      fill: 'rgba(190,190,190,0.6)',
      align: 'center',
      verticalAlign: 'middle',
      shadowColor: 'rgba(70,70,70,0.45)',
      shadowBlur: 1.5,
      shadowOffsetX: 3,
      shadowOffsetY: 4
    }
  }]
};

chart.setOption(option);
</script>
</body>
</html>
